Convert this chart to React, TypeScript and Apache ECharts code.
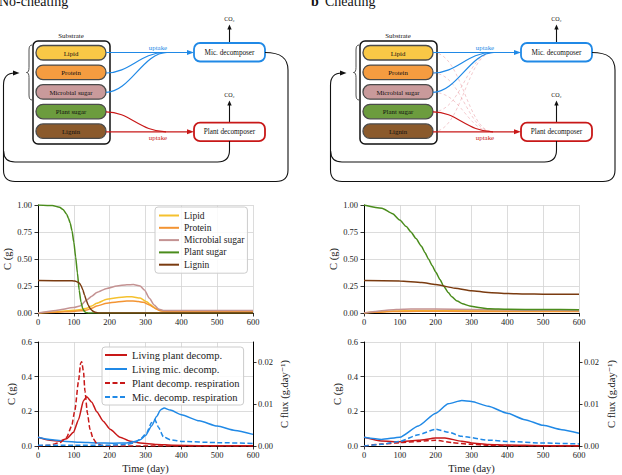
import React, { useEffect, useRef } from 'react';
import * as echarts from 'echarts';

const FONT = 'Liberation Serif, DejaVu Serif, serif';

// ---------- tick labels ----------
const xTicks = [0, 100, 200, 300, 400, 500, 600];
const yTicksTop = [0, 0.25, 0.5, 0.75, 1.0];
const yTicksBottom = [0, 0.2, 0.4, 0.6];
const yTicksFlux = [0, 0.01, 0.02];
const fluxMax = 0.0248;

// ---------- names ----------
const substrateNames = ['Lipid', 'Protein', 'Microbial sugar', 'Plant sugar', 'Lignin'];
const decompNames = ['Living plant decomp.', 'Living mic. decomp.', 'Plant decomp. respiration', 'Mic. decomp. respiration'];

// ---------- panel a (no-cheating) substrates: [day, C (g)] ----------
const lipidA = [[0, 0], [50, 0.01], [100, 0.025], [120, 0.032], [136, 0.045], [150, 0.065], [164, 0.09], [192, 0.127], [220, 0.142], [248, 0.151], [262, 0.151], [285, 0.138], [303, 0.105], [312, 0.082], [321, 0.059], [330, 0.04], [338, 0.028], [350, 0.02], [380, 0.018], [600, 0.018]];
const proteinA = [[0, 0], [50, 0.006], [100, 0.015], [120, 0.02], [136, 0.028], [150, 0.045], [164, 0.065], [192, 0.09], [220, 0.103], [248, 0.111], [265, 0.112], [280, 0.106], [294, 0.099], [311, 0.074], [330, 0.037], [343, 0.018], [360, 0.012], [600, 0.012]];
const microbialSugarA = [[0, 0], [50, 0.024], [100, 0.05], [117, 0.065], [136, 0.12], [150, 0.155], [164, 0.19], [192, 0.228], [220, 0.25], [248, 0.262], [266, 0.263], [285, 0.25], [297, 0.213], [311, 0.136], [324, 0.074], [338, 0.034], [352, 0.022], [600, 0.022]];
const plantSugarA = [[0, 1], [40, 0.995], [60, 0.98], [70, 0.958], [80, 0.915], [85, 0.877], [90, 0.83], [95, 0.76], [100, 0.655], [105, 0.52], [110, 0.37], [115, 0.21], [120, 0.1], [125, 0.04], [130, 0.012], [135, 0.003], [140, 0], [600, 0]];
const ligninA = [[0, 0.3], [90, 0.299], [100, 0.297], [105, 0.294], [110, 0.288], [115, 0.278], [120, 0.255], [125, 0.215], [130, 0.165], [135, 0.115], [140, 0.075], [145, 0.045], [150, 0.026], [155, 0.013], [160, 0.006], [170, 0.001], [180, 0], [600, 0]];

// ---------- panel b (cheating) substrates ----------
const lipidB = [[0, 0], [30, 0.01], [80, 0.018], [150, 0.022], [250, 0.022], [400, 0.02], [600, 0.019]];
const proteinB = [[0, 0], [30, 0.007], [80, 0.013], [150, 0.016], [300, 0.015], [600, 0.013]];
const microbialSugarB = [[0, 0], [30, 0.015], [70, 0.028], [110, 0.035], [150, 0.038], [200, 0.037], [300, 0.033], [400, 0.028], [500, 0.025], [600, 0.024]];
const plantSugarB = [[0, 1], [50, 0.97], [80, 0.92], [100, 0.86], [118, 0.8], [131, 0.75], [145, 0.69], [160, 0.62], [170, 0.56], [180, 0.5], [190, 0.44], [200, 0.38], [212, 0.31], [222, 0.25], [235, 0.19], [245, 0.15], [260, 0.11], [275, 0.085], [295, 0.065], [320, 0.05], [350, 0.04], [400, 0.035], [500, 0.032], [600, 0.031]];
const ligninB = [[0, 0.3], [100, 0.297], [161, 0.283], [200, 0.263], [254, 0.23], [300, 0.207], [347, 0.19], [400, 0.18], [450, 0.176], [500, 0.174], [600, 0.173]];

// ---------- panel a decomposers: living C (g) and respiration flux (g/day) ----------
const livingPlantA = [[0, 0.05], [33, 0.033], [61, 0.028], [80, 0.042], [99, 0.079], [113, 0.152], [127, 0.262], [136, 0.284], [150, 0.253], [164, 0.198], [182, 0.143], [201, 0.097], [229, 0.051], [257, 0.028], [285, 0.018], [331, 0.009], [378, 0.004], [450, 0.002], [600, 0.001]];
const livingMicA = [[0, 0.05], [33, 0.037], [71, 0.028], [117, 0.022], [164, 0.018], [210, 0.0165], [247, 0.018], [270, 0.026], [285, 0.036], [300, 0.06], [317, 0.116], [331, 0.17], [342, 0.208], [352, 0.219], [369, 0.207], [400, 0.18], [450, 0.145], [500, 0.115], [550, 0.09], [600, 0.067]];
const plantRespA = [[0, 0], [33, 0.0002], [61, 0.0008], [80, 0.0021], [94, 0.0048], [103, 0.0086], [113, 0.0154], [119, 0.0198], [122, 0.0201], [127, 0.0177], [131, 0.0131], [138, 0.0078], [145, 0.004], [154, 0.0017], [164, 0.0006], [178, 0.0001], [200, 0], [600, 0]];
const micRespA = [[0, 0.0002], [100, 0.0002], [200, 0.0002], [250, 0.0004], [270, 0.0008], [285, 0.0016], [303, 0.0031], [317, 0.0056], [326, 0.0063], [336, 0.0045], [350, 0.0022], [369, 0.0015], [400, 0.0011], [500, 0.0008], [600, 0.0006]];

// ---------- panel b decomposers ----------
const livingPlantB = [[0, 0.05], [49, 0.029], [100, 0.024], [152, 0.033], [200, 0.046], [226, 0.046], [273, 0.0275], [300, 0.018], [347, 0.009], [400, 0.0055], [500, 0.002], [600, 0.001]];
const livingMicB = [[0, 0.05], [49, 0.038], [100, 0.051], [152, 0.116], [200, 0.189], [235, 0.244], [273, 0.262], [300, 0.257], [347, 0.229], [400, 0.189], [449, 0.152], [500, 0.119], [552, 0.094], [600, 0.073]];
const plantRespB = [[0, 0], [49, 0.00045], [100, 0.0008], [152, 0.0011], [200, 0.0014], [245, 0.0008], [300, 0.0004], [347, 0.00015], [400, 0.00005], [600, 0]];
const micRespB = [[0, 0], [49, 0.0004], [100, 0.0011], [152, 0.0027], [200, 0.004], [235, 0.0033], [273, 0.0023], [347, 0.0014], [400, 0.0011], [500, 0.0007], [600, 0.0005]];

// ---------- colours ----------
const lineColors = ['#f5c12e', '#f39433', '#c49393', '#4a8c1c', '#7a3b10'];
const boxColors = ['#f9c846', '#f59c40', '#c99a9b', '#6c9c3e', '#8b5a2c'];
const RED = '#c81818';
const BLUE = '#2089e6';

// ---------- diagram shapes ----------
const bracePath = 'M32 45 Q29 45 29 50 L29 67.5 Q29 72.5 26.5 72.5 Q29 72.5 29 77.5 L29 95 Q29 100 32 100';
const outerLoopPath = 'M265 52.5 C281 52.5 288 58 288 70 L288 170 Q288 181.5 276 181.5 L15 181.5 Q3.5 181.5 3.5 170 L3.5 85 Q3.5 73 15 73 L16 73';
const innerLoopPath = 'M229.5 141 L229.5 150 Q229.5 162 217.5 162 L15 162 Q3.8 162 3.6 151';

echarts.graphic.registerShape('brace', echarts.graphic.extendPath(bracePath, {}) as any);
echarts.graphic.registerShape('outerLoop', echarts.graphic.extendPath(outerLoopPath, {}) as any);
echarts.graphic.registerShape('innerLoop', echarts.graphic.extendPath(innerLoopPath, {}) as any);

function txt(x: number, y: number, text: string, size: number, color = '#111', align = 'center', weight = 'normal') {
  return {
    type: 'text', x, y, silent: true,
    style: { text, fontSize: size, fontFamily: FONT, fill: color, align, verticalAlign: 'middle', fontWeight: weight },
  };
}

function diagram(dx: number, cheating: boolean) {
  const els: any[] = [];
  els.push(txt(71 + dx, 35, 'Substrate', 6.9));
  els.push({ type: 'rect', silent: true, shape: { x: 33 + dx, y: 41, width: 77, height: 103, r: 5 }, style: { fill: 'none', stroke: '#111', lineWidth: 1.5 } });
  els.push({ type: 'brace', x: dx, silent: true, style: { fill: 'none', stroke: '#222', lineWidth: 0.8 } });
  substrateNames.forEach((n, i) => {
    const y = 45.5 + i * 19.6;
    els.push({ type: 'rect', silent: true, shape: { x: 36 + dx, y, width: 70, height: 14.5, r: 7 }, style: { fill: boxColors[i], stroke: '#4a4a4a', lineWidth: 1.3 } });
    els.push(txt(71 + dx, y + 7.5, n, 6.8));
  });
  const boxes = [
    { y: 43, label: 'Mic. decomposer', color: BLUE, co2y: 19, arrowTop: 24.5 },
    { y: 122.7, label: 'Plant decomposer', color: RED, co2y: 95, arrowTop: 100.5 },
  ];
  boxes.forEach((b) => {
    els.push({ type: 'line', silent: true, shape: { x1: 229.5 + dx, y1: b.y, x2: 229.5 + dx, y2: b.arrowTop + 4 }, style: { stroke: '#111', lineWidth: 1.1 } });
    els.push({ type: 'polygon', silent: true, shape: { points: [[227.3 + dx, b.arrowTop + 5], [229.5 + dx, b.arrowTop], [231.7 + dx, b.arrowTop + 5]] }, style: { fill: '#111' } });
    els.push(txt(229.5 + dx, b.co2y, 'CO₂', 6));
    els.push({ type: 'rect', silent: true, shape: { x: 194 + dx, y: b.y, width: 71, height: 18.5, r: 6 }, style: { fill: '#fff', stroke: b.color, lineWidth: 1.8 } });
    els.push(txt(229.5 + dx, b.y + 9.5, b.label, 7.2));
  });
  if (cheating) {
    const faint = 'rgba(220,100,110,0.38)';
    [52.5, 73, 92.3].forEach((y0) => {
      els.push({ type: 'bezierCurve', silent: true, shape: { x1: 106 + dx, y1: y0, cpx1: 135 + dx, cpy1: y0, cpx2: 140 + dx, cpy2: 131.8, x2: 166 + dx, y2: 131.8 }, style: { fill: 'none', stroke: faint, lineWidth: 0.9, lineDash: [3, 2.5] } });
    });
    [111.8, 131.8].forEach((y0) => {
      els.push({ type: 'bezierCurve', silent: true, shape: { x1: 106 + dx, y1: y0, cpx1: 135 + dx, cpy1: y0, cpx2: 140 + dx, cpy2: 52.5, x2: 166 + dx, y2: 52.5 }, style: { fill: 'none', stroke: faint, lineWidth: 0.9, lineDash: [3, 2.5] } });
    });
  }
  const lw = 1.2;
  els.push({ type: 'line', silent: true, shape: { x1: 106 + dx, y1: 52.5, x2: 189 + dx, y2: 52.5 }, style: { stroke: BLUE, lineWidth: lw } });
  els.push({ type: 'bezierCurve', silent: true, shape: { x1: 106 + dx, y1: 73, cpx1: 130 + dx, cpy1: 73, cpx2: 140 + dx, cpy2: 52.5, x2: 165 + dx, y2: 52.5 }, style: { fill: 'none', stroke: BLUE, lineWidth: lw } });
  els.push({ type: 'bezierCurve', silent: true, shape: { x1: 106 + dx, y1: 92.3, cpx1: 130 + dx, cpy1: 92.3, cpx2: 143 + dx, cpy2: 52.5, x2: 167 + dx, y2: 52.5 }, style: { fill: 'none', stroke: BLUE, lineWidth: lw } });
  els.push({ type: 'polygon', silent: true, shape: { points: [[187 + dx, 50], [194 + dx, 52.5], [187 + dx, 55]] }, style: { fill: BLUE } });
  els.push(txt(158 + dx, 47, 'uptake', 6.9, BLUE));
  els.push({ type: 'line', silent: true, shape: { x1: 106 + dx, y1: 131.8, x2: 189 + dx, y2: 131.8 }, style: { stroke: RED, lineWidth: lw } });
  els.push({ type: 'bezierCurve', silent: true, shape: { x1: 106 + dx, y1: 111.8, cpx1: 130 + dx, cpy1: 111.8, cpx2: 140 + dx, cpy2: 131.8, x2: 166 + dx, y2: 131.8 }, style: { fill: 'none', stroke: RED, lineWidth: lw } });
  els.push({ type: 'polygon', silent: true, shape: { points: [[187 + dx, 129.3], [194 + dx, 131.8], [187 + dx, 134.3]] }, style: { fill: RED } });
  els.push(txt(158 + dx, 137.5, 'uptake', 6.9, RED));
  els.push({ type: 'outerLoop', x: dx, silent: true, style: { fill: 'none', stroke: '#111', lineWidth: 1.1 } });
  els.push({ type: 'innerLoop', x: dx, silent: true, style: { fill: 'none', stroke: '#111', lineWidth: 1.1 } });
  els.push({ type: 'polygon', silent: true, shape: { points: [[13 + dx, 70.5], [19.5 + dx, 73], [13 + dx, 75.5]] }, style: { fill: '#111' } });
  return els;
}

const tickFont = { fontFamily: FONT, fontSize: 8.5, color: '#222' };
const nameFont = { fontFamily: FONT, fontSize: 10.5, color: '#222' };

function xAxis(gridIndex: number, withName: boolean) {
  return {
    type: 'value', gridIndex,
    min: xTicks[0], max: xTicks[xTicks.length - 1], interval: xTicks[1] - xTicks[0],
    axisLine: { show: true, onZero: false, lineStyle: { color: '#000', width: 1 } },
    axisTick: { show: true, length: 3.5, lineStyle: { color: '#000', width: 0.8 } },
    axisLabel: { ...tickFont, margin: 4.5 },
    splitLine: { show: true, lineStyle: { color: '#d3d3d3', width: 0.8 } },
    name: withName ? 'Time (day)' : '', nameLocation: 'middle', nameGap: 17, nameTextStyle: nameFont,
  };
}

function yAxisLeft(gridIndex: number, ticks: number[], digits: number, gap: number) {
  return {
    type: 'value', gridIndex, position: 'left',
    min: ticks[0], max: ticks[ticks.length - 1], interval: ticks[1] - ticks[0],
    axisLine: { show: true, lineStyle: { color: '#000', width: 1 } },
    axisTick: { show: true, length: 3.5, lineStyle: { color: '#000', width: 0.8 } },
    axisLabel: { ...tickFont, margin: 6, formatter: (v: number) => v.toFixed(digits) },
    splitLine: { show: true, lineStyle: { color: '#d3d3d3', width: 0.8 } },
    name: 'C (g)', nameLocation: 'middle', nameRotate: 90, nameGap: gap, nameTextStyle: nameFont,
  };
}

function yAxisRight(gridIndex: number, gap: number) {
  return {
    type: 'value', gridIndex, position: 'right',
    min: 0, max: fluxMax,
    axisLine: { show: true, lineStyle: { color: '#000', width: 1 } },
    axisTick: { show: true, length: 3.5, lineStyle: { color: '#000', width: 0.8 }, customValues: yTicksFlux },
    axisLabel: { ...tickFont, margin: 5, customValues: yTicksFlux, formatter: (v: number) => v.toFixed(2) },
    splitLine: { show: false },
    name: 'C flux (g.day⁻¹)', nameLocation: 'middle', nameRotate: 90, nameGap: gap, nameTextStyle: nameFont,
  };
}

function line(name: string, data: number[][], color: string, xi: number, yi: number, dashed = false) {
  return {
    type: 'line', name, data, xAxisIndex: xi, yAxisIndex: yi,
    symbol: 'none', showSymbol: false, smooth: 0.2, smoothMonotone: 'x', silent: true,
    lineStyle: { color, width: 1.5, type: dashed ? [5, 2.5] : 'solid' },
    itemStyle: { color },
  };
}

const legendBase = {
  orient: 'vertical', selectedMode: false,
  backgroundColor: 'rgba(255,255,255,0.85)', borderColor: '#cccccc', borderWidth: 1, borderRadius: 3,
  itemStyle: { opacity: 0, color: 'rgba(0,0,0,0)', borderColor: 'rgba(0,0,0,0)', borderWidth: 0 },
};

export default function App() {
  const ref = useRef<HTMLDivElement>(null);
  useEffect(() => {
    if (!ref.current) return;
    const chart = echarts.init(ref.current, undefined, { renderer: 'svg' });
    const subsA = [lipidA, proteinA, microbialSugarA, plantSugarA, ligninA];
    const subsB = [lipidB, proteinB, microbialSugarB, plantSugarB, ligninB];
    const series: any[] = [];
    substrateNames.forEach((n, i) => series.push(line(n, subsA[i], lineColors[i], 0, 0)));
    substrateNames.forEach((n, i) => series.push(line(n, subsB[i], lineColors[i], 1, 1)));
    series.push(line(decompNames[0], livingPlantA, RED, 2, 2));
    series.push(line(decompNames[1], livingMicA, BLUE, 2, 2));
    series.push(line(decompNames[2], plantRespA, RED, 2, 3, true));
    series.push(line(decompNames[3], micRespA, BLUE, 2, 3, true));
    series.push(line(decompNames[0], livingPlantB, RED, 3, 4));
    series.push(line(decompNames[1], livingMicB, BLUE, 3, 4));
    series.push(line(decompNames[2], plantRespB, RED, 3, 5, true));
    series.push(line(decompNames[3], micRespB, BLUE, 3, 5, true));

    const graphics: any[] = [
      txt(-1, 1, 'No-cheating', 14, '#111', 'left'),
      txt(311, 1, 'b', 14, '#111', 'left', 'bold'),
      txt(325, 1, 'Cheating', 14, '#111', 'left'),
      ...diagram(0, false),
      ...diagram(327, true),
    ];

    chart.setOption({
      animation: false,
      backgroundColor: '#fff',
      grid: [
        { left: 38, top: 205, width: 215, height: 108 },
        { left: 364, top: 205, width: 215, height: 108 },
        { left: 38, top: 342, width: 215, height: 109 },
        { left: 364, top: 342, width: 215, height: 109 },
      ],
      xAxis: [xAxis(0, false), xAxis(1, false), xAxis(2, true), xAxis(3, true)],
      yAxis: [
        yAxisLeft(0, yTicksTop, 2, 23),
        yAxisLeft(1, yTicksTop, 2, 24),
        yAxisLeft(2, yTicksBottom, 1, 21),
        yAxisRight(2, 26),
        yAxisLeft(3, yTicksBottom, 1, 20),
        yAxisRight(3, 27),
      ],
      legend: [
        {
          ...legendBase, data: substrateNames, left: 155, top: 207,
          padding: [3, 3, 3, 3], itemWidth: 20, itemHeight: 8, itemGap: 1.3,
          textStyle: { fontFamily: FONT, fontSize: 9.5, color: '#222', lineHeight: 11 },
        },
        {
          ...legendBase, data: decompNames, left: 102, top: 347,
          padding: [2, 4, 2, 2], itemWidth: 22, itemHeight: 8, itemGap: 2,
          textStyle: { fontFamily: FONT, fontSize: 10.5, color: '#222', lineHeight: 12 },
        },
      ],
      graphic: graphics,
      series,
    });
    return () => chart.dispose();
  }, []);
  return <div ref={ref} style={{ position: 'fixed', left: 0, top: 0, width: 622, height: 475, background: '#fff' }} />;
}
